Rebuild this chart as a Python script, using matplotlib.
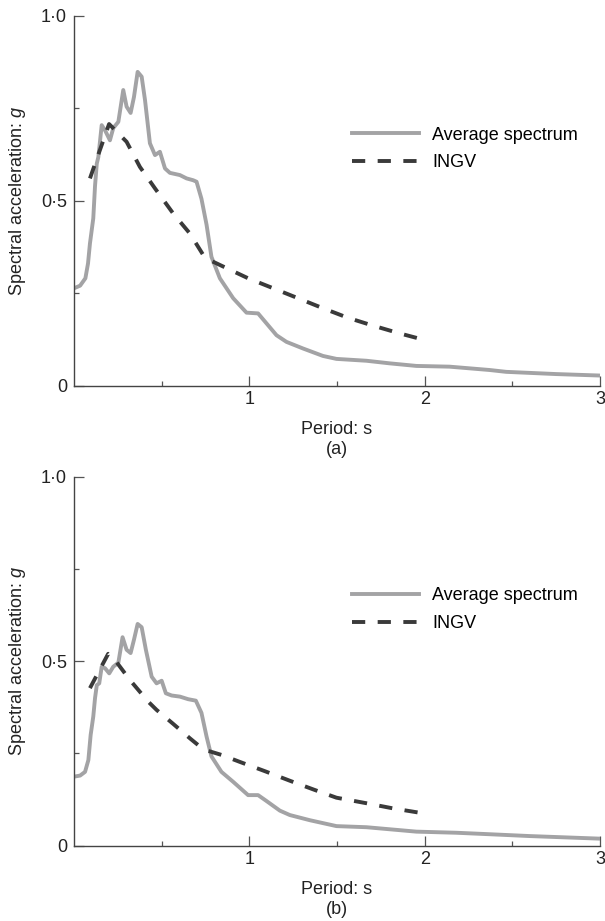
import matplotlib
matplotlib.use("Agg")
import matplotlib.pyplot as plt

plt.rcParams['font.family'] = ['Liberation Sans', 'DejaVu Sans']
plt.rcParams['mathtext.fontset'] = 'custom'
plt.rcParams['mathtext.rm'] = 'Liberation Sans'
plt.rcParams['mathtext.it'] = 'Liberation Sans:italic'

# (a) average spectrum
t_avg_a = [0, 0.035, 0.065, 0.08, 0.091, 0.11, 0.12, 0.13, 0.139, 0.158, 0.177, 0.205,
           0.224, 0.253, 0.281, 0.30, 0.323, 0.342, 0.363, 0.386, 0.405, 0.433, 0.462,
           0.49, 0.519, 0.547, 0.604, 0.642, 0.68, 0.699, 0.727, 0.756, 0.784, 0.832,
           0.908, 0.984, 1.05, 1.098, 1.155, 1.212, 1.307, 1.42, 1.497, 1.668, 1.80,
           1.953, 2.142, 2.218, 2.37, 2.465, 2.75, 3.0]
sa_avg_a = [0.263, 0.27, 0.29, 0.33, 0.384, 0.452, 0.54, 0.60, 0.618, 0.704, 0.69, 0.663,
            0.696, 0.713, 0.799, 0.754, 0.737, 0.78, 0.848, 0.835, 0.772, 0.655, 0.623,
            0.632, 0.587, 0.575, 0.569, 0.56, 0.555, 0.551, 0.505, 0.435, 0.348, 0.29,
            0.236, 0.197, 0.195, 0.168, 0.136, 0.118, 0.10, 0.08, 0.072, 0.067, 0.06,
            0.053, 0.051, 0.048, 0.042, 0.037, 0.031, 0.027]
# (a) INGV
t_ingv_a = [0.091, 0.2, 0.30, 0.376, 0.462, 0.566, 0.661, 0.737, 0.77, 0.832, 0.993,
            1.136, 1.278, 1.42, 1.563, 1.705, 1.857, 2.0]
sa_ingv_a = [0.56, 0.707, 0.659, 0.591, 0.533, 0.465, 0.411, 0.353, 0.34, 0.326, 0.29,
             0.263, 0.236, 0.209, 0.183, 0.162, 0.141, 0.123]

# (b) average spectrum
t_avg_b = [0, 0.035, 0.063, 0.082, 0.095, 0.11, 0.12, 0.13, 0.144, 0.158, 0.177, 0.201,
           0.224, 0.253, 0.277, 0.30, 0.323, 0.342, 0.363, 0.386, 0.41, 0.443, 0.471,
           0.50, 0.524, 0.557, 0.604, 0.651, 0.695, 0.727, 0.756, 0.784, 0.841, 0.908,
           0.993, 1.05, 1.098, 1.174, 1.231, 1.345, 1.497, 1.668, 1.953, 2.18, 2.37,
           2.6, 3.0]
sa_avg_b = [0.187, 0.19, 0.2, 0.232, 0.3, 0.35, 0.40, 0.435, 0.44, 0.485, 0.481, 0.467,
            0.485, 0.496, 0.565, 0.531, 0.522, 0.558, 0.601, 0.592, 0.531, 0.458, 0.44,
            0.447, 0.413, 0.407, 0.404, 0.397, 0.393, 0.36, 0.296, 0.242, 0.2, 0.173,
            0.137, 0.137, 0.121, 0.095, 0.083, 0.069, 0.053, 0.05, 0.038, 0.035, 0.031,
            0.026, 0.019]
# (b) INGV
t_ingv_b = [0.091, 0.195, 0.234, 0.319, 0.367, 0.424, 0.471, 0.566, 0.661, 0.72, 0.765,
            0.841, 0.946, 1.088, 1.231, 1.373, 1.497, 1.668, 1.82, 2.0]
sa_ingv_b = [0.427, 0.52, 0.503, 0.449, 0.422, 0.39, 0.368, 0.33, 0.291, 0.268, 0.257,
             0.246, 0.227, 0.202, 0.176, 0.151, 0.13, 0.115, 0.101, 0.087]

panels = [
    ("(a)", t_avg_a, sa_avg_a, t_ingv_a, sa_ingv_a),
    ("(b)", t_avg_b, sa_avg_b, t_ingv_b, sa_ingv_b),
]

fig = plt.figure(figsize=(6.05, 9.21), dpi=100)
rects = [[0.1223, 0.5814, 0.8694, 0.4016], [0.1223, 0.0818, 0.8694, 0.4006]]

for rect, (tag, ta, sa, ti, si) in zip(rects, panels):
    ax = fig.add_axes(rect)
    ax.plot(ta, sa, color='#a3a3a5', lw=2.8, label='Average spectrum', solid_joinstyle='round')
    ax.plot(ti, si, color='#3a3a3a', lw=2.8, linestyle=(0, (3.4, 3.2)), label='INGV')
    ax.set_xlim(0, 3)
    ax.set_ylim(0, 1)
    ax.set_xticks([1, 2, 3])
    ax.set_xticklabels(['1', '2', '3'])
    ax.set_xticks([0.5, 1.5, 2.5], minor=True)
    ax.set_yticks([0, 0.5, 1.0])
    ax.set_yticklabels(['0', '0\u00b75', '1\u00b70'])
    ax.set_yticks([0.25, 0.75], minor=True)
    for s in ['top', 'right']:
        ax.spines[s].set_visible(False)
    for s in ['left', 'bottom']:
        ax.spines[s].set_color('#444444')
        ax.spines[s].set_linewidth(1.0)
    ax.tick_params(which='both', direction='in', color='#555555', width=0.9,
                   labelsize=13, labelcolor='#222222')
    ax.tick_params(which='major', length=7.2, pad=4)
    ax.tick_params(which='minor', length=3.6)
    ax.tick_params(axis='y', which='major', pad=5)
    ax.set_xlabel('Period: s\n' + tag, fontsize=13, color='#222222', linespacing=1.25)
    ax.xaxis.set_label_coords(0.5, -0.095)
    ax.set_ylabel('Spectral acceleration: $g$', fontsize=13, color='#222222')
    ax.yaxis.set_label_coords(-0.087, 0.5)
    ax.legend(loc='upper left', bbox_to_anchor=(0.528, 0.70), frameon=False,
              fontsize=13, handlelength=3.7, handletextpad=0.75, labelspacing=0.6,
              borderpad=0, borderaxespad=0)

fig.savefig('out.png', dpi=100)
